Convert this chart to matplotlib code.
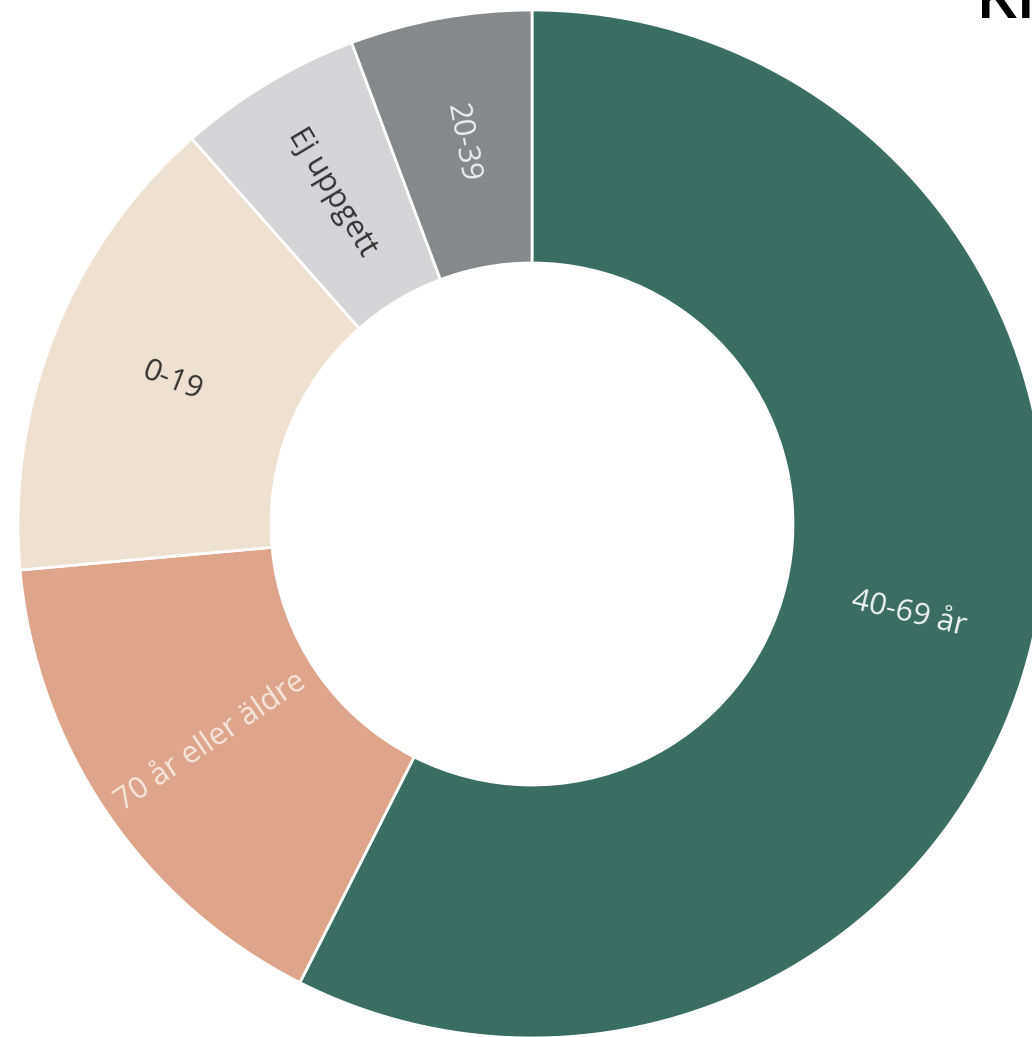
import numpy as np
import matplotlib
matplotlib.use("Agg")
import matplotlib.pyplot as plt

plt.rcParams['font.family'] = ['Open Sans', 'DejaVu Sans']

# andelar (procent), medurs från kl 12
labels = ['40-69 år', '70 år eller äldre', '0-19', 'Ej uppgett', '20-39']
values = [57.4, 16.1, 14.9, 5.8, 5.7]
colors = ['#3a6e63', '#dfa58b', '#efe1d2', '#d5d5d7', '#86888c']
text_colors = ['#eef4f2', '#f7e6dc', '#333333', '#333333', '#eeeeee']

W, H = 1032, 1037
fig = plt.figure(figsize=(W / 100, H / 100), dpi=100)
ax = fig.add_axes([0, 0, 1, 1])

cx, cy = 532, H - 524
r_out, r_in = 514, 261

wedges, _ = ax.pie(values, colors=colors, startangle=90, counterclock=False,
                   center=(cx, cy), radius=r_out, frame=True,
                   wedgeprops=dict(width=r_out - r_in, edgecolor='white', linewidth=2))
ax.set_xlim(0, W)
ax.set_ylim(0, H)
ax.axis('off')

r_lab = (r_out + r_in) / 2
for w, lab, tc in zip(wedges, labels, text_colors):
    mid = (w.theta1 + w.theta2) / 2
    a = np.deg2rad(mid)
    x = cx + r_lab * np.cos(a)
    y = cy + r_lab * np.sin(a)
    rot = (mid + 180) % 360 - 180
    if rot > 90:
        rot -= 180
    elif rot < -90:
        rot += 180
    ax.text(x, y, lab, rotation=rot, rotation_mode='anchor', ha='center', va='center',
            fontsize=22, color=tc)

# titel, avskuren i överkanten
fig.text(976 / W, 1 - 18 / H, 'Klass', fontsize=46, fontweight='semibold',
         color='black', ha='left', va='baseline')

fig.savefig('out.png', dpi=100)
